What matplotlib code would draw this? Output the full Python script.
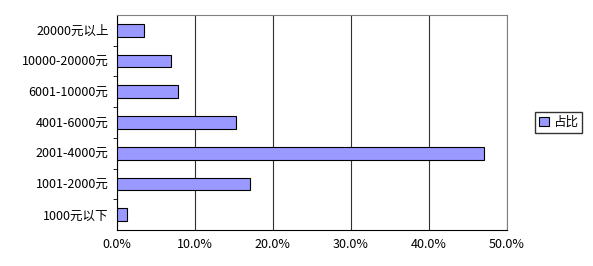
import matplotlib
matplotlib.use("Agg")
import matplotlib.pyplot as plt
from matplotlib.ticker import FixedLocator, PercentFormatter

plt.rcParams['font.family'] = ['Noto Sans CJK SC', 'DejaVu Sans']

# Income bands, bottom to top
categories = ["1000元以下", "1001-2000元", "2001-4000元", "4001-6000元",
              "6001-10000元", "10000-20000元", "20000元以上"]
shares = [1.3, 17.1, 47.1, 15.3, 7.9, 7.0, 3.5]
xticks = [0, 10, 20, 30, 40, 50]

fig = plt.figure(figsize=(5.93, 2.66), dpi=100)
ax = fig.add_axes([0.197, 0.135, 0.658, 0.809])

pos = list(range(len(categories)))
ax.barh(pos, shares, height=0.42, color="#9999FF", edgecolor="#000000",
        linewidth=0.8, label="占比", zorder=3)

ax.set_xlim(0, 50)
ax.set_ylim(-0.5, len(categories) - 0.5)
ax.set_xticks(xticks)
ax.xaxis.set_major_formatter(PercentFormatter(decimals=1))
ax.grid(axis="x", color="#303030", linewidth=0.8, zorder=0)
ax.tick_params(axis="x", length=0, labelsize=9, pad=6)

ax.set_yticks(pos)
ax.set_yticklabels(categories)
ax.tick_params(axis="y", which="major", length=0, labelsize=9, pad=6)
ax.yaxis.set_minor_locator(FixedLocator([p + 0.5 for p in pos[:-1]]))
ax.tick_params(axis="y", which="minor", length=3, direction="out")

for side in ["top", "right"]:
    ax.spines[side].set_color("#808080")
for side in ["left", "bottom"]:
    ax.spines[side].set_color("#000000")

ax.legend(loc="center left", bbox_to_anchor=(1.055, 0.5), fontsize=9,
          frameon=True, fancybox=False, edgecolor="#000000",
          handlelength=0.8, handleheight=0.8, handletextpad=0.3,
          borderpad=0.35)

fig.savefig("out.png", dpi=100)
